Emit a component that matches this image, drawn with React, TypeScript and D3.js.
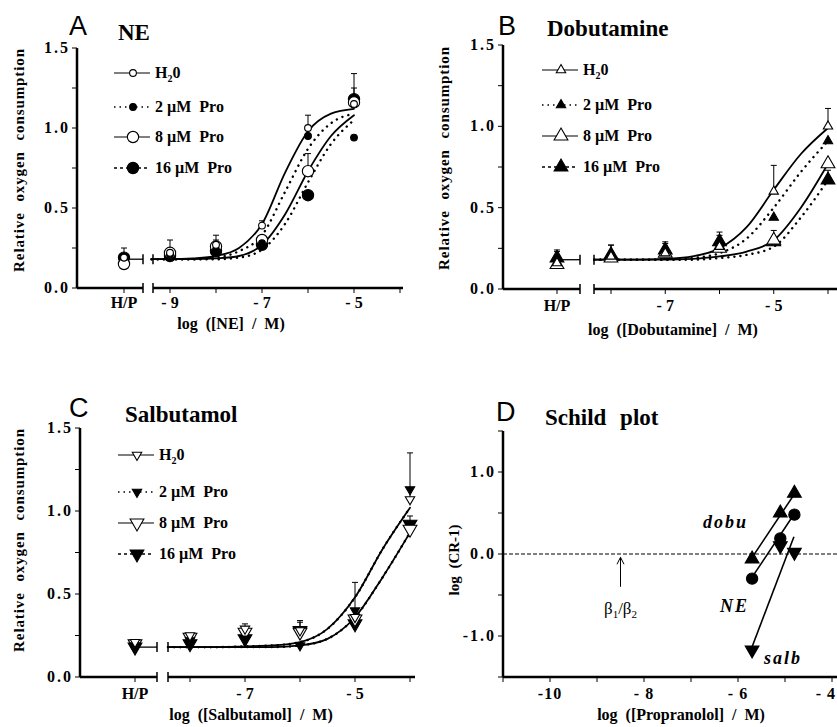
import React from "react";
import * as d3 from "d3";

const FONT = "'Liberation Serif', 'Times New Roman', serif";
const SANS = "'Liberation Sans', Arial, sans-serif";

const seriesNames = ["0", "2 µM  Pro", "8 µM  Pro", "16 µM  Pro"];

// ---- Panel A: NE ----
const concA = [-9, -8, -7, -6, -5];
const neH2O = [0.19, 0.22, 0.27, 0.39, 1.0, 1.15];
const neP2 = [0.19, 0.21, 0.24, 0.28, 0.95, 0.94];
const neP8 = [0.15, 0.22, 0.26, 0.3, 0.73, 1.16];
const neP16 = [0.19, 0.2, 0.23, 0.27, 0.58, 1.18];
const neH2OErr = [0.25, 0.3, 0.33, 0.42, 1.08, 1.34];
const neP8Err = [null, null, 0.3, null, 0.84, 1.25];
const fitXA = [-9.4, -9, -8.5, -8, -7.5, -7, -6.5, -6, -5.5, -5];
const neFitH2O = [0.18, 0.18, 0.185, 0.2, 0.25, 0.4, 0.72, 0.98, 1.09, 1.12];
const neFitP2 = [0.18, 0.18, 0.18, 0.19, 0.23, 0.33, 0.6, 0.87, 1.03, 1.09];
const neFitP8 = [0.18, 0.18, 0.18, 0.185, 0.2, 0.27, 0.46, 0.73, 0.95, 1.08];
const neFitP16 = [0.18, 0.18, 0.18, 0.18, 0.19, 0.24, 0.4, 0.66, 0.9, 1.05];

// ---- Panel B: Dobutamine ----
const concB = [-8, -7, -6, -5, -4];
const dobH2O = [0.16, 0.2, 0.22, 0.26, 0.6, 1.0];
const dobP2 = [0.19, 0.21, 0.24, 0.29, 0.44, 0.91];
const dobP8 = [0.15, 0.19, 0.22, 0.25, 0.3, 0.77];
const dobP16 = [0.19, 0.21, 0.24, 0.29, 0.29, 0.67];
const dobH2OErr = [0.24, 0.27, 0.29, 0.35, 0.76, 1.11];
const dobP16Err = [0.23, 0.27, 0.28, 0.33, 0.36, 0.73];
const fitXB = [-8.31, -8, -7.5, -7, -6.5, -6, -5.5, -5, -4.5, -4];
const dobFitH2O = [0.18, 0.18, 0.18, 0.185, 0.2, 0.25, 0.38, 0.61, 0.83, 0.99];
const dobFitP2 = [0.18, 0.18, 0.18, 0.18, 0.19, 0.22, 0.31, 0.5, 0.72, 0.91];
const dobFitP8 = [0.18, 0.18, 0.18, 0.18, 0.185, 0.2, 0.23, 0.3, 0.5, 0.77];
const dobFitP16 = [0.18, 0.18, 0.18, 0.18, 0.18, 0.19, 0.21, 0.26, 0.44, 0.67];

// ---- Panel C: Salbutamol ----
const concC = [-8, -7, -6, -5, -4];
const salH2O = [0.21, 0.25, 0.29, 0.28, 0.36, 1.07];
const salP2 = [0.19, 0.22, 0.23, 0.19, 0.4, 1.13];
const salP8 = [0.2, 0.24, 0.27, 0.27, 0.35, 0.89];
const salP16 = [0.18, 0.2, 0.23, 0.28, 0.32, 0.92];
const salH2OErr = [null, 0.26, 0.32, 0.34, 0.57, 1.35];
const salP16Err = [null, null, 0.3, 0.33, null, 0.97];
const fitXC = [-8.4, -8, -7.5, -7, -6.5, -6, -5.5, -5, -4.5, -4];
const salFitH2O = [0.18, 0.18, 0.18, 0.185, 0.19, 0.21, 0.29, 0.48, 0.77, 1.02];
const salFitP2 = [0.18, 0.18, 0.18, 0.185, 0.19, 0.21, 0.29, 0.48, 0.77, 1.02];
const salFitP8 = [0.18, 0.18, 0.18, 0.18, 0.18, 0.19, 0.23, 0.36, 0.6, 0.87];
const salFitP16 = [0.18, 0.18, 0.18, 0.18, 0.18, 0.19, 0.23, 0.36, 0.6, 0.87];

// ---- Panel D: Schild plot ----
const schildConc = [-5.7, -5.1, -4.8];
const dobuLog = [-0.06, 0.5, 0.74];
const neLog = [-0.3, 0.19, 0.48];
const salbLog = [-1.17, 0.1, 0.02];
const dobuFitX = [-5.72, -4.79];
const dobuFitY = [-0.06, 0.74];
const neFitX = [-5.72, -4.79];
const neFitY = [-0.3, 0.5];
const salbFitX = [-5.7, -4.81];
const salbFitY = [-1.13, 0.21];
const arrowX = -8.5;
const arrowY = [-0.4, -0.04];

type Shape = "circle" | "up" | "down";
const styles = [
  { filled: false, big: false, dotted: false },
  { filled: true, big: false, dotted: true },
  { filled: false, big: true, dotted: false },
  { filled: true, big: true, dotted: true },
];

function Marker({ shape, x, y, filled, big }: { shape: Shape; x: number; y: number; filled: boolean; big: boolean }) {
  const isC = shape === "circle";
  const size = isC ? (big ? 100 : 36) : big ? 82 : 38;
  const d = d3.symbol().type(isC ? d3.symbolCircle : d3.symbolTriangle).size(size)() as string;
  const rot = shape === "down" ? " rotate(180)" : "";
  return (
    <path d={d} transform={`translate(${x},${y})${rot}`} fill={filled ? "#000" : "#fff"} stroke="#000" strokeWidth={1.1} />
  );
}

interface PanelCfg {
  letter: string;
  letterX: number;
  letterY: number;
  title: string;
  titleX: number;
  titleY: number;
  shape: Shape;
  conc: number[];
  xDomain: number[];
  xRange: number[];
  yRange: number[];
  hpX: number;
  axisX: number;
  seg1: number;
  seg2: number;
  axisEnd: number;
  xLabels: number[];
  labelY: number;
  xTitle: string;
  xTitleX: number;
  xTitleY: number;
  yTitleX: number;
  yTitleY: number;
  legendX: number;
  legendRows: number[];
  values: number[][];
  errs: (number | null)[][];
  fitX: number[];
  fits: number[][];
}

function DosePanel({ c }: { c: PanelCfg }) {
  const x = d3.scaleLinear().domain(c.xDomain).range(c.xRange);
  const y = d3.scaleLinear().domain([0, 1.5]).range(c.yRange);
  const y0 = y(0);
  const px = (i: number) => (i === 0 ? c.hpX : x(c.conc[i - 1]));
  const line = d3
    .line<number>()
    .x((_, i) => x(c.fitX[i]))
    .y((v) => y(v))
    .curve(d3.curveMonotoneX);
  const yTicks = d3.range(0, 1.51, 0.25);
  const decades = d3.range(c.xDomain[0], c.xDomain[1] + 0.5, 1);
  const base = y(0.18);
  return (
    <g>
      <text x={c.letterX} y={c.letterY} fontFamily={SANS} fontSize={27}>
        {c.letter}
      </text>
      <text x={c.titleX} y={c.titleY} fontFamily={FONT} fontSize={23} fontWeight="bold">
        {c.title}
      </text>
      {/* y axis */}
      <line x1={c.axisX} x2={c.axisX} y1={y(1.5)} y2={y0} stroke="#000" strokeWidth={2.5} />
      {yTicks.map((t) => (
        <line key={t} x1={c.axisX - 5} x2={c.axisX} y1={y(t)} y2={y(t)} stroke="#000" strokeWidth={1} />
      ))}
      {[0, 0.5, 1, 1.5].map((t) => (
        <text key={t} x={c.axisX - 7} y={y(t) + 5} textAnchor="end" fontFamily={FONT} fontWeight="bold" fontSize={16} letterSpacing={2}>
          {t.toFixed(1)}
        </text>
      ))}
      <text
        transform={`translate(${c.yTitleX},${c.yTitleY}) rotate(-90)`}
        textAnchor="middle"
        fontFamily={FONT}
        fontWeight="bold"
        fontSize={15}
        letterSpacing={0.9}
        wordSpacing={6}
      >
        Relative oxygen consumption
      </text>
      {/* x axis with break */}
      <line x1={c.axisX} x2={c.seg1} y1={y0} y2={y0} stroke="#000" strokeWidth={2.5} />
      <line x1={c.seg2} x2={c.axisEnd} y1={y0} y2={y0} stroke="#000" strokeWidth={2.5} />
      {[c.seg1, c.seg2].map((b) => (
        <g key={b}>
          <line x1={b} x2={b} y1={y0 - 5} y2={y0 + 5} stroke="#000" strokeWidth={1.5} />
          <line x1={b} x2={b} y1={base - 5} y2={base + 5} stroke="#000" strokeWidth={1.5} />
        </g>
      ))}
      <line x1={c.hpX} x2={c.seg1} y1={base} y2={base} stroke="#000" strokeWidth={1.3} />
      <line x1={c.hpX} x2={c.hpX} y1={y0} y2={y0 + 5} stroke="#000" strokeWidth={1} />
      {decades.map((d) => (
        <line key={d} x1={x(d)} x2={x(d)} y1={y0} y2={y0 + 5} stroke="#000" strokeWidth={1} />
      ))}
      <text x={c.hpX} y={c.labelY} textAnchor="middle" fontFamily={FONT} fontWeight="bold" fontSize={16}>
        H/P
      </text>
      {c.xLabels.map((d) => (
        <text key={d} x={x(d)} y={c.labelY} textAnchor="middle" fontFamily={FONT} fontWeight="bold" fontSize={16}>
          {`- ${Math.abs(d)}`}
        </text>
      ))}
      <text x={c.xTitleX} y={c.xTitleY} textAnchor="middle" fontFamily={FONT} fontWeight="bold" fontSize={16} wordSpacing={4}>
        {c.xTitle}
      </text>
      {/* fitted curves */}
      {c.fits.map((f, i) => (
        <path
          key={i}
          d={line(f) as string}
          fill="none"
          stroke="#000"
          strokeWidth={styles[i].dotted ? 2.4 : 1.8}
          strokeDasharray={styles[i].dotted ? "0.1 6" : undefined}
          strokeLinecap="round"
        />
      ))}
      {/* error bars */}
      {c.errs.map((es, si) =>
        es.map((e, i) =>
          e == null ? null : (
            <g key={`${si}-${i}`}>
              <line x1={px(i)} x2={px(i)} y1={y(c.values[si][i])} y2={y(e)} stroke="#000" strokeWidth={1} />
              <line x1={px(i) - 3} x2={px(i) + 3} y1={y(e)} y2={y(e)} stroke="#000" strokeWidth={1} />
            </g>
          )
        )
      )}
      {/* points: draw big first, small on top */}
      {[3, 2, 1, 0].map((si) =>
        c.values[si].map((v, i) => (
          <Marker key={`${si}-${i}`} shape={c.shape} x={px(i)} y={y(v)} filled={styles[si].filled} big={styles[si].big} />
        ))
      )}
      {/* legend */}
      {seriesNames.map((n, i) => {
        const ly = c.legendRows[i];
        const lx = c.legendX;
        return (
          <g key={n}>
            <line
              x1={lx}
              x2={lx + 36}
              y1={ly}
              y2={ly}
              stroke="#000"
              strokeWidth={styles[i].dotted ? 1.5 : 1.2}
              strokeDasharray={styles[i].dotted ? (i === 1 ? "1.5 4" : "3 3") : undefined}
            />
            <Marker shape={c.shape} x={lx + 19} y={ly} filled={styles[i].filled} big={styles[i].big} />
            {i === 0 ? (
              <text x={lx + 41} y={ly + 5} fontFamily={FONT} fontWeight="bold" fontSize={16}>
                H
                <tspan dy={4} fontSize={10}>
                  2
                </tspan>
                <tspan dy={-4}>{n}</tspan>
              </text>
            ) : (
              <text x={lx + 41} y={ly + 5} fontFamily={FONT} fontWeight="bold" fontSize={16} style={{ whiteSpace: "pre" }}>
                {n}
              </text>
            )}
          </g>
        );
      })}
    </g>
  );
}

const panelA: PanelCfg = {
  letter: "A", letterX: 69, letterY: 35, title: "NE", titleX: 118, titleY: 40, shape: "circle",
  conc: concA, xDomain: [-9, -4], xRange: [170, 400], yRange: [288, 48], hpX: 124, axisX: 77,
  seg1: 143, seg2: 153, axisEnd: 403, xLabels: [-9, -7, -5], labelY: 308,
  xTitle: "log ([NE] / M)", xTitleX: 231, xTitleY: 329, yTitleX: 24, yTitleY: 160,
  legendX: 114, legendRows: [73, 107, 137, 168],
  values: [neH2O, neP2, neP8, neP16], errs: [neH2OErr, [], neP8Err, []],
  fitX: fitXA, fits: [neFitH2O, neFitP2, neFitP8, neFitP16],
};

const panelB: PanelCfg = {
  letter: "B", letterX: 498, letterY: 35, title: "Dobutamine", titleX: 547, titleY: 36, shape: "up",
  conc: concB, xDomain: [-8, -4], xRange: [611, 828], yRange: [289, 45], hpX: 557, axisX: 503,
  seg1: 580, seg2: 594, axisEnd: 837, xLabels: [-7, -5], labelY: 311,
  xTitle: "log ([Dobutamine] / M)", xTitleX: 673, xTitleY: 335, yTitleX: 449, yTitleY: 158,
  legendX: 542, legendRows: [70, 105, 136, 167],
  values: [dobH2O, dobP2, dobP8, dobP16], errs: [dobH2OErr, [], [], dobP16Err],
  fitX: fitXB, fits: [dobFitH2O, dobFitP2, dobFitP8, dobFitP16],
};

const panelC: PanelCfg = {
  letter: "C", letterX: 69, letterY: 417, title: "Salbutamol", titleX: 125, titleY: 422, shape: "down",
  conc: concC, xDomain: [-8, -4], xRange: [190, 410], yRange: [677, 428], hpX: 135, axisX: 80,
  seg1: 157, seg2: 168, axisEnd: 415, xLabels: [-7, -5], labelY: 699,
  xTitle: "log ([Salbutamol] / M)", xTitleX: 251, xTitleY: 720, yTitleX: 24, yTitleY: 540,
  legendX: 118, legendRows: [455, 492, 523, 554],
  values: [salH2O, salP2, salP8, salP16], errs: [salH2OErr, [], [], salP16Err],
  fitX: fitXC, fits: [salFitH2O, salFitP2, salFitP8, salFitP16],
};

function SchildPanel() {
  const x = d3.scaleLinear().domain([-11, -4]).range([503, 832]);
  const y = d3.scaleLinear().domain([-1.5, 1.5]).range([677, 431]);
  const yTicks = d3.range(-1.5, 1.51, 0.5);
  const xTicks = d3.range(-11, -3.5, 1);
  const groups = [
    { shape: "up" as Shape, vals: dobuLog, fx: dobuFitX, fy: dobuFitY },
    { shape: "circle" as Shape, vals: neLog, fx: neFitX, fy: neFitY },
    { shape: "down" as Shape, vals: salbLog, fx: salbFitX, fy: salbFitY },
  ];
  return (
    <g>
      <text x={496} y={421} fontFamily={SANS} fontSize={27}>
        D
      </text>
      <text x={545} y={425} fontFamily={FONT} fontSize={23} fontWeight="bold" wordSpacing={8}>
        Schild plot
      </text>
      <line x1={x(-11)} x2={x(-11)} y1={y(1.5)} y2={y(-1.5)} stroke="#000" strokeWidth={2.5} />
      <line x1={x(-11)} x2={837} y1={y(-1.5)} y2={y(-1.5)} stroke="#000" strokeWidth={2.5} />
      {yTicks.map((t) => (
        <line key={t} x1={x(-11) - 5} x2={x(-11)} y1={y(t)} y2={y(t)} stroke="#000" strokeWidth={1} />
      ))}
      {[1, 0, -1].map((t) => (
        <text key={t} x={x(-11) - 7} y={y(t) + 5} textAnchor="end" fontFamily={FONT} fontWeight="bold" fontSize={16} letterSpacing={2}>
          {t.toFixed(1)}
        </text>
      ))}
      {xTicks.map((t) => (
        <line key={t} x1={x(t)} x2={x(t)} y1={y(-1.5)} y2={y(-1.5) + 5} stroke="#000" strokeWidth={1} />
      ))}
      {[-10, -8, -6, -4].map((t) => (
        <text
          key={t}
          x={t === -4 ? 836 : x(t)}
          y={699}
          textAnchor={t === -4 ? "end" : "middle"}
          fontFamily={FONT}
          fontWeight="bold"
          fontSize={16}
          letterSpacing={1}
        >
          {t === -10 ? "-10" : `- ${Math.abs(t)}`}
        </text>
      ))}
      <text x={681} y={720} textAnchor="middle" fontFamily={FONT} fontWeight="bold" fontSize={16} wordSpacing={4}>
        log ([Propranolol] / M)
      </text>
      <text transform={`translate(459,560) rotate(-90)`} textAnchor="middle" fontFamily={FONT} fontWeight="bold" fontSize={15} wordSpacing={4}>
        log (CR-1)
      </text>
      <line x1={x(-11)} x2={837} y1={y(0)} y2={y(0)} stroke="#000" strokeWidth={1} strokeDasharray="4 2" />
      <line x1={x(arrowX)} x2={x(arrowX)} y1={y(arrowY[0])} y2={y(arrowY[1])} stroke="#000" strokeWidth={1} />
      <path
        d={`M${x(arrowX) - 3.5},${y(arrowY[1]) + 7} L${x(arrowX)},${y(arrowY[1])} L${x(arrowX) + 3.5},${y(arrowY[1]) + 7}`}
        fill="none"
        stroke="#000"
        strokeWidth={1}
      />
      <text x={x(arrowX)} y={614} textAnchor="middle" fontFamily={FONT} fontSize={17}>
        β<tspan dy={4} fontSize={11}>1</tspan>
        <tspan dy={-4}>/β</tspan>
        <tspan dy={4} fontSize={11}>2</tspan>
      </text>
      {groups.map((g, gi) => (
        <g key={gi}>
          <line x1={x(g.fx[0])} x2={x(g.fx[1])} y1={y(g.fy[0])} y2={y(g.fy[1])} stroke="#000" strokeWidth={1.6} />
          {g.vals.map((v, i) => (
            <Marker key={i} shape={g.shape} x={x(schildConc[i])} y={y(v)} filled={true} big={true} />
          ))}
        </g>
      ))}
      <text x={703} y={528} fontFamily={FONT} fontStyle="italic" fontWeight="bold" fontSize={18} letterSpacing={2}>
        dobu
      </text>
      <text x={720} y={612} fontFamily={FONT} fontStyle="italic" fontWeight="bold" fontSize={18} letterSpacing={2}>
        NE
      </text>
      <text x={764} y={664} fontFamily={FONT} fontStyle="italic" fontWeight="bold" fontSize={18} letterSpacing={2}>
        salb
      </text>
    </g>
  );
}

export default function App() {
  return (
    <svg width={837} height={727} style={{ position: "absolute", left: 0, top: 0, background: "#fff" }}>
      <rect width={837} height={727} fill="#fff" />
      <DosePanel c={panelA} />
      <DosePanel c={panelB} />
      <DosePanel c={panelC} />
      <SchildPanel />
    </svg>
  );
}
